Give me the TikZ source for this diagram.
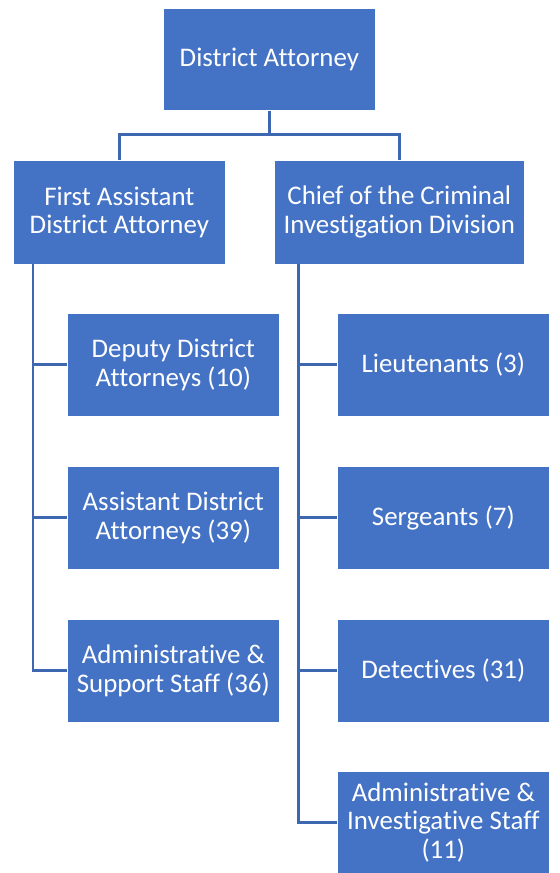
\documentclass[tikz,border=0pt]{standalone}
\usepackage{fontspec}
\setmainfont{Carlito}[Ligatures=CommonOff]
\usepackage{xcolor}
\usepackage{tikz}
\usetikzlibrary{positioning,calc}
\definecolor{orgblue}{RGB}{68, 114, 196}
\definecolor{orgline}{RGB}{62, 103, 177}

\begin{document}
\begin{tikzpicture}[x=0.02cm, y=-0.02cm,
    orgbox/.style={rectangle, fill=orgblue, draw=white, line width=0.4pt, text=white, align=center, anchor=north west, inner sep=1pt, font=\fontsize{15.3}{16.4}\selectfont},
    orgline/.style={draw=orgline, line width=0.06cm}]
    \useasboundingbox (0,0) rectangle (560,873);
    % Nodes
    \node [orgbox, minimum width=4.24cm, minimum height=2.04cm] (da) at (163,8) {District Attorney};
    \node [orgbox, minimum width=4.24cm, minimum height=2.08cm] (fa) at (13,160) {First Assistant\\District Attorney};
    \node [orgbox, minimum width=5.00cm, minimum height=2.08cm] (chief) at (274,160) {Chief of the Criminal\\Investigation Division};

    \node [orgbox, minimum width=4.24cm, minimum height=2.06cm] (dep) at (67,313) {Deputy District\\Attorneys (10)};
    \node [orgbox, minimum width=4.24cm, minimum height=2.06cm] (asst) at (67,466) {Assistant District\\Attorneys (39)};
    \node [orgbox, minimum width=4.24cm, minimum height=2.06cm] (admsup) at (67,619) {Administrative \&\\Support Staff (36)};

    \node [orgbox, minimum width=4.24cm, minimum height=2.06cm] (lt) at (337,313) {Lieutenants (3)};
    \node [orgbox, minimum width=4.24cm, minimum height=2.06cm] (sgt) at (337,466) {Sergeants (7)};
    \node [orgbox, minimum width=4.24cm, minimum height=2.06cm] (det) at (337,619) {Detectives (31)};
    \node [orgbox, minimum width=4.24cm, minimum height=2.04cm] (adminv) at (337,771) {Administrative \&\\Investigative Staff\\(11)};

    % Edges
    \draw [orgline] (da.south) -- ++(0,24) coordinate (split);
    \draw [orgline] (fa.north) |- (split) -| (chief.north);

    \coordinate (lspine) at (33,264);
    \coordinate (rspine) at (298,264);
    \foreach \n in {dep,asst,admsup}
        \draw [orgline] (lspine) |- (\n.west);
    \foreach \n in {lt,sgt,det,adminv}
        \draw [orgline] (rspine) |- (\n.west);
\end{tikzpicture}
\end{document}
